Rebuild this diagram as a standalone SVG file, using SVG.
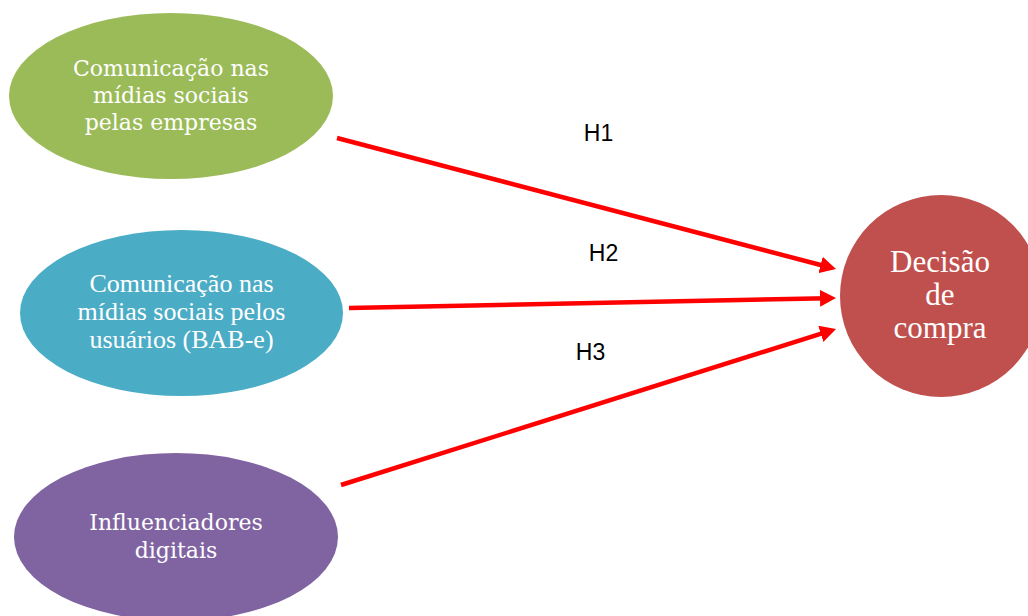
<svg xmlns="http://www.w3.org/2000/svg" width="1028" height="616" viewBox="0 0 1028 616">
<style>
.t{fill:#ffffff;text-anchor:middle}
.cam{font-family:"DejaVu Serif","Liberation Serif",serif;font-size:22px}
.tnr{font-family:"Liberation Serif",serif;font-size:26px}
.big{font-family:"Liberation Serif",serif;font-size:31px}
.lbl{font-family:"Liberation Sans",Arial,sans-serif;font-size:23px;fill:#000000;text-anchor:middle}
.edge{stroke:#ff0000;stroke-width:4.5;fill:none;marker-end:url(#ah)}
</style>
<defs>
<marker id="ah" markerUnits="userSpaceOnUse" markerWidth="16" markerHeight="17" viewBox="0 0 16 17" refX="8" refY="8.5" orient="auto">
<path d="M0,0 L16,8.5 L0,17 z" fill="#ff0000"/>
</marker>
</defs>
<rect width="1028" height="616" fill="#ffffff"/>
<g id="n1">
<ellipse cx="171" cy="96" rx="162" ry="83" fill="#9bbb59"/>
<text class="t cam" x="171" y="76">Comunicação nas</text>
<text class="t cam" x="171" y="103">mídias sociais</text>
<text class="t cam" x="171" y="130">pelas empresas</text>
</g>
<g id="n2">
<ellipse cx="181.5" cy="313" rx="161.5" ry="83" fill="#4bacc6"/>
<text class="t tnr" x="181.5" y="292">Comunicação nas</text>
<text class="t tnr" x="181.5" y="320">mídias sociais pelos</text>
<text class="t tnr" x="181.5" y="348">usuários (BAB-e)</text>
</g>
<g id="n3">
<ellipse cx="176" cy="537" rx="162" ry="84" fill="#8064a2"/>
<text class="t cam" x="176" y="530">Influenciadores</text>
<text class="t cam" x="176" y="558">digitais</text>
</g>
<g id="n4">
<circle cx="941" cy="296" r="101" fill="#c0504d"/>
<text class="t big" x="940" y="272">Decisão</text>
<text class="t big" x="940" y="305">de</text>
<text class="t big" x="940" y="338">compra</text>
</g>
<g id="connectors">
<line class="edge" x1="337" y1="138" x2="828.3" y2="267"/>
<line class="edge" x1="349" y1="308" x2="828" y2="298.2"/>
<line class="edge" x1="341" y1="485" x2="828.4" y2="331.4"/>
<text class="lbl" x="598.5" y="141">H1</text>
<text class="lbl" x="603.5" y="261">H2</text>
<text class="lbl" x="590.5" y="360">H3</text>
</g>
</svg>
